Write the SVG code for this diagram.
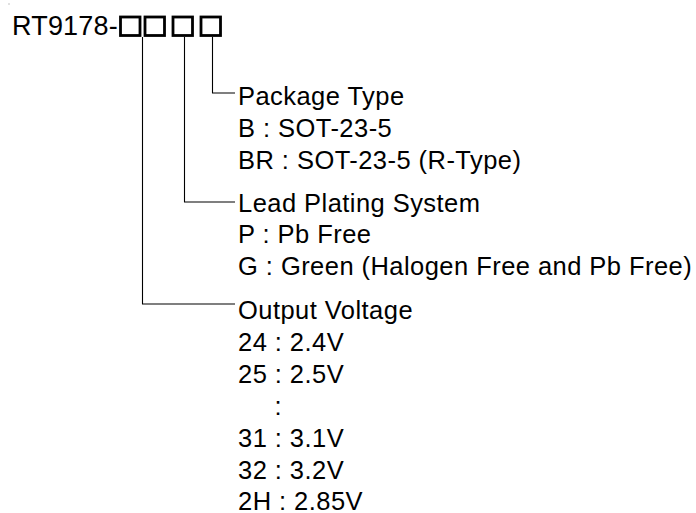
<svg xmlns="http://www.w3.org/2000/svg" width="696" height="513" viewBox="0 0 696 513">
<style>
.t{font-family:"Liberation Sans",Arial,sans-serif;font-size:25.5px;letter-spacing:0.45px;fill:#000}
.pn{font-family:"Liberation Sans",Arial,sans-serif;font-size:27px;letter-spacing:0.2px;fill:#000}
.box{fill:none;stroke:#000;stroke-width:2.8}
.ln{fill:none;stroke:#000;stroke-width:1.1}
</style>
<rect width="696" height="513" fill="#fff"/>
<rect x="8.5" y="3.5" width="1" height="1" fill="#888"/>
<g id="part-number">
<text class="pn" x="12" y="35">RT9178-</text>
<rect class="box" x="120.5" y="17" width="19.5" height="18.5"/>
<rect class="box" x="145" y="17" width="19.5" height="18.5"/>
<rect class="box" x="173" y="17" width="19.5" height="18.5"/>
<rect class="box" x="201" y="17" width="19.5" height="18.5"/>
</g>
<g id="connectors">
<polyline class="ln" points="212.5,37 212.5,93 235,93"/>
<polyline class="ln" points="184.5,37 184.5,202 235,202"/>
<polyline class="ln" points="142.5,37 142.5,304 235,304"/>
</g>
<g id="package-type">
<text class="t" x="238" y="104.5">Package Type</text>
<text class="t" x="238" y="136.5">B : SOT-23-5</text>
<text class="t" x="238" y="168.5">BR : SOT-23-5 (R-Type)</text>
</g>
<g id="lead-plating">
<text class="t" x="238" y="211.5">Lead Plating System</text>
<text class="t" x="238" y="243">P : Pb Free</text>
<text class="t" x="238" y="275">G : Green (Halogen Free and Pb Free)</text>
</g>
<g id="output-voltage">
<text class="t" x="238" y="319">Output Voltage</text>
<text class="t" x="238" y="351">24 : 2.4V</text>
<text class="t" x="238" y="383">25 : 2.5V</text>
<text class="t" x="274.5" y="415">:</text>
<text class="t" x="238" y="447">31 : 3.1V</text>
<text class="t" x="238" y="479">32 : 3.2V</text>
<text class="t" x="238" y="509.5">2H : 2.85V</text>
</g>
</svg>
